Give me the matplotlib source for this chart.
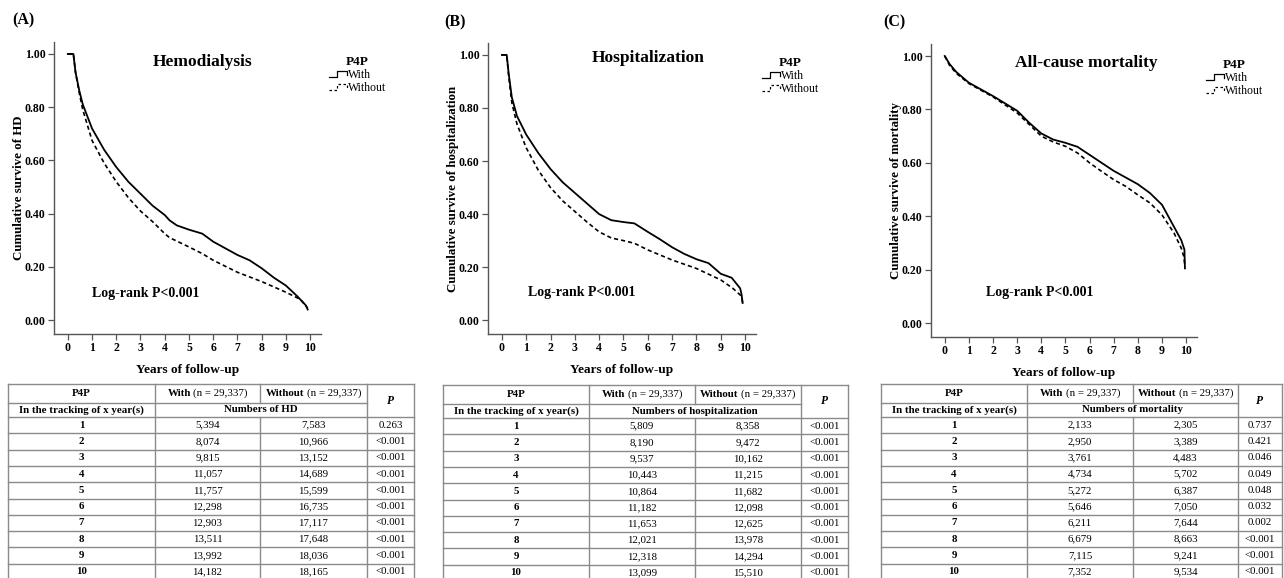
import matplotlib
matplotlib.use("Agg")
import matplotlib.pyplot as plt
from matplotlib.legend_handler import HandlerBase
from matplotlib.lines import Line2D

plt.rcParams['font.family'] = ['Liberation Serif', 'DejaVu Serif']

W, H = 1284, 578

# ---- Kaplan-Meier curves (years, survival) ----
hd_t_with = [0, 0.23, 0.32, 0.48, 0.62, 1, 1.5, 2, 2.5, 3, 3.5, 4, 4.2, 4.5, 5, 5.55, 6, 6.5, 7, 7.5, 8, 8.5, 9, 9.47, 9.83, 9.9]
hd_s_with = [1, 1, 0.93, 0.86, 0.81, 0.72, 0.64, 0.575, 0.52, 0.475, 0.43, 0.395, 0.375, 0.356, 0.34, 0.325, 0.295, 0.27, 0.245, 0.225, 0.195, 0.16, 0.13, 0.09, 0.055, 0.04]
hd_t_without = [0, 0.23, 0.32, 0.48, 0.62, 1, 1.5, 2, 2.5, 3, 3.5, 4, 4.2, 5, 5.55, 6, 7, 8, 9, 9.6, 9.9]
hd_s_without = [1, 1, 0.93, 0.85, 0.79, 0.675, 0.59, 0.52, 0.46, 0.41, 0.37, 0.325, 0.31, 0.275, 0.25, 0.225, 0.18, 0.145, 0.105, 0.078, 0.045]

hosp_t_with = [0, 0.2, 0.28, 0.41, 0.62, 1, 1.5, 2, 2.5, 3, 3.5, 4, 4.5, 5, 5.45, 6, 6.5, 7, 7.5, 8, 8.5, 9, 9.45, 9.8, 9.86, 9.9]
hosp_s_with = [1, 1, 0.93, 0.84, 0.77, 0.70, 0.63, 0.57, 0.52, 0.48, 0.44, 0.40, 0.377, 0.37, 0.365, 0.333, 0.305, 0.275, 0.25, 0.23, 0.215, 0.175, 0.16, 0.12, 0.095, 0.065]
hosp_t_without = [0, 0.2, 0.28, 0.41, 0.62, 1, 1.5, 2, 2.5, 3, 3.5, 4, 4.5, 5, 5.45, 6, 7, 8, 9, 9.5, 9.86, 9.9]
hosp_s_without = [1, 1, 0.92, 0.82, 0.74, 0.65, 0.565, 0.50, 0.45, 0.41, 0.37, 0.333, 0.31, 0.30, 0.29, 0.265, 0.227, 0.195, 0.152, 0.12, 0.09, 0.065]

mort_t_with = [0, 0.2, 0.48, 1, 2, 3, 3.5, 4, 4.5, 5, 5.5, 6, 6.5, 7, 7.5, 8, 8.5, 9, 9.5, 9.8, 9.93, 9.95]
mort_s_with = [1, 0.97, 0.94, 0.90, 0.85, 0.795, 0.75, 0.71, 0.687, 0.675, 0.66, 0.63, 0.60, 0.57, 0.545, 0.52, 0.487, 0.443, 0.36, 0.31, 0.275, 0.205]
mort_t_without = [0, 0.2, 0.48, 1, 2, 3, 4, 4.5, 5, 5.5, 6, 6.5, 7, 7.5, 8, 8.5, 9, 9.5, 9.8, 9.9, 9.95]
mort_s_without = [1, 0.965, 0.935, 0.897, 0.847, 0.787, 0.70, 0.678, 0.662, 0.637, 0.60, 0.568, 0.537, 0.512, 0.48, 0.45, 0.405, 0.337, 0.28, 0.25, 0.215]

# ---- tables ----
years = [1, 2, 3, 4, 5, 6, 7, 8, 9, 10]
hd_with = ["5,394", "8,074", "9,815", "11,057", "11,757", "12,298", "12,903", "13,511", "13,992", "14,182"]
hd_without = ["7,583", "10,966", "13,152", "14,689", "15,599", "16,735", "17,117", "17,648", "18,036", "18,165"]
hd_p = ["0.263"] + ["<0.001"] * 9
hosp_with = ["5,809", "8,190", "9,537", "10,443", "10,864", "11,182", "11,653", "12,021", "12,318", "13,099"]
hosp_without = ["8,358", "9,472", "10,162", "11,215", "11,682", "12,098", "12,625", "13,978", "14,294", "15,510"]
hosp_p = ["<0.001"] * 10
mort_with = ["2,133", "2,950", "3,761", "4,734", "5,272", "5,646", "6,211", "6,679", "7,115", "7,352"]
mort_without = ["2,305", "3,389", "4,483", "5,702", "6,387", "7,050", "7,644", "8,663", "9,241", "9,534"]
mort_p = ["0.737", "0.421", "0.046", "0.049", "0.048", "0.032", "0.002", "<0.001", "<0.001", "<0.001"]

panels = [
    dict(tag="(A)", title="Hemodialysis", ylabel="Cumulative survive of HD", what="HD",
         curves=(hd_t_with, hd_s_with, hd_t_without, hd_s_without),
         table=(hd_with, hd_without, hd_p),
         box=(54, 42, 321, 334), tagxy=(12, 20), titlexy=(5.56, 0.97), lrxy=(0.98, 0.10),
         legxy=(329, 56), cols=[8, 155, 260, 367, 414], ttop=384),
    dict(tag="(B)", title="Hospitalization", ylabel="Cumulative survive of hospitalization", what="hospitalization",
         curves=(hosp_t_with, hosp_s_with, hosp_t_without, hosp_s_without),
         table=(hosp_with, hosp_without, hosp_p),
         box=(488, 43, 756, 334), tagxy=(444, 22), titlexy=(6.0, 0.99), lrxy=(1.07, 0.106),
         legxy=(762, 57), cols=[443, 589, 695, 801, 848], ttop=385),
    dict(tag="(C)", title="All-cause mortality", ylabel="Cumulative survive of mortality", what="mortality",
         curves=(mort_t_with, mort_s_with, mort_t_without, mort_s_without),
         table=(mort_with, mort_without, mort_p),
         box=(931, 44, 1197, 337), tagxy=(883, 22), titlexy=(5.87, 0.975), lrxy=(1.7, 0.115),
         legxy=(1206, 59), cols=[881, 1027, 1133, 1238, 1282], ttop=384),
]


class StepHandler(HandlerBase):
    # SPSS style little step glyph in the legend
    def create_artists(self, legend, orig_handle, xdescent, ydescent, width, height, fontsize, trans):
        x0, y0 = -xdescent, -ydescent
        xs = [x0, x0 + 0.45 * width, x0 + 0.45 * width, x0 + width, x0 + width]
        ys = [y0 + 0.15 * height, y0 + 0.15 * height, y0 + 0.85 * height, y0 + 0.85 * height, y0 + 0.45 * height]
        ln = Line2D(xs, ys, color="black", lw=0.9, linestyle=orig_handle.get_linestyle(), transform=trans)
        if orig_handle.get_linestyle() != "-":
            ln.set_dashes((2, 2))
        return [ln]


fig = plt.figure(figsize=(W / 100, H / 100), dpi=100)

for p in panels:
    l, t, r, b = p["box"]
    ax = fig.add_axes([l / W, 1 - b / H, (r - l) / W, (b - t) / H])
    tw, sw, to, so = p["curves"]
    l1, = ax.plot(tw, sw, color="black", lw=1.3, ls="-")
    l2, = ax.plot(to, so, color="black", lw=1.2, ls="--", dashes=(2.5, 1.8))
    ax.set_xlim(-0.57, 10.45)
    ax.set_ylim(-0.052, 1.045)
    ax.set_xticks(range(11))
    ax.set_yticks([0, 0.2, 0.4, 0.6, 0.8, 1.0])
    ax.set_yticklabels(["%.2f" % v for v in [0, 0.2, 0.4, 0.6, 0.8, 1.0]])
    for s in ["top", "right"]:
        ax.spines[s].set_visible(False)
    for s in ["left", "bottom"]:
        ax.spines[s].set_color("#555555")
        ax.spines[s].set_linewidth(1.0)
    ax.tick_params(length=4, width=0.9, color="#555555", labelsize=8.5, pad=2)
    for lab in ax.get_xticklabels() + ax.get_yticklabels():
        lab.set_fontweight("bold")
    ax.set_xlabel("Years of follow-up", fontsize=9.5, fontweight="bold", labelpad=7)
    ax.set_ylabel(p["ylabel"], fontsize=9.3, fontweight="bold", labelpad=0)
    ax.text(p["titlexy"][0], p["titlexy"][1], p["title"], fontsize=12.5, fontweight="bold",
            ha="center", va="center")
    ax.text(p["lrxy"][0], p["lrxy"][1], "Log-rank P<0.001", fontsize=10, fontweight="bold",
            ha="left", va="center")
    ax.legend([l1, l2], ["With", "Without"], title="P4P", handler_map={Line2D: StepHandler()},
              frameon=False, loc="upper left",
              bbox_to_anchor=(p["legxy"][0] / W, 1 - p["legxy"][1] / H), bbox_transform=fig.transFigure,
              handlelength=1.5, handleheight=0.8, handletextpad=0.1, labelspacing=0.1,
              borderpad=0, borderaxespad=0, prop={"size": 8.5},
              title_fontproperties={"weight": "bold", "size": 9.5})
    fig.text(p["tagxy"][0] / W, 1 - p["tagxy"][1] / H, p["tag"], fontsize=11.5, fontweight="bold",
             ha="left", va="center")

# ---- tables drawn on an overlay axes in pixel units ----
tax = fig.add_axes([0, 0, 1, 1])
tax.set_xlim(0, W)
tax.set_ylim(H, 0)
tax.axis("off")
renderer = fig.canvas.get_renderer()
gc = "#8a8a8a"
fs = 7.8


def mixed(xc, y, bold, rest):
    t1 = tax.text(0, y, bold, fontweight="bold", fontsize=fs, ha="left", va="center")
    t2 = tax.text(0, y, rest, fontsize=fs, ha="left", va="center")
    w1 = t1.get_window_extent(renderer).width
    w2 = t2.get_window_extent(renderer).width
    gap = 2.5
    x0 = xc - (w1 + w2 + gap) / 2
    t1.set_x(x0)
    t2.set_x(x0 + w1 + gap)


for p in panels:
    c = p["cols"]
    top = p["ttop"]
    h1 = top + 19
    h2 = top + 33
    rh = 16.3
    bottom = h2 + rh * len(years)
    # horizontal lines
    tax.plot([c[0], c[4]], [top, top], color=gc, lw=1)
    tax.plot([c[0], c[3]], [h1, h1], color=gc, lw=1)
    for k in range(len(years) + 1):
        yy = h2 + rh * k
        tax.plot([c[0], c[4]], [yy, yy], color=gc, lw=1)
    # vertical lines
    for x in [c[0], c[1], c[3], c[4]]:
        tax.plot([x, x], [top, bottom], color=gc, lw=1)
    tax.plot([c[2], c[2]], [top, h1], color=gc, lw=1)
    tax.plot([c[2], c[2]], [h2, bottom], color=gc, lw=1)
    # header text
    tax.text((c[0] + c[1]) / 2, (top + h1) / 2, "P4P", fontsize=fs, fontweight="bold", ha="center", va="center")
    tax.text((c[0] + c[1]) / 2, (h1 + h2) / 2, "In the tracking of x year(s)", fontsize=fs,
             fontweight="bold", ha="center", va="center")
    mixed((c[1] + c[2]) / 2, (top + h1) / 2, "With", "(n = 29,337)")
    mixed((c[2] + c[3]) / 2, (top + h1) / 2, "Without", "(n = 29,337)")
    tax.text((c[1] + c[3]) / 2, (h1 + h2) / 2, "Numbers of " + p["what"], fontsize=fs,
             fontweight="bold", ha="center", va="center")
    tax.text((c[3] + c[4]) / 2, (top + h2) / 2, "P", fontsize=fs + 0.5, fontweight="bold",
             fontstyle="italic", ha="center", va="center")
    vw, vo, vp = p["table"]
    for k, yr in enumerate(years):
        yc = h2 + rh * (k + 0.5)
        tax.text((c[0] + c[1]) / 2, yc, str(yr), fontsize=fs, fontweight="bold", ha="center", va="center")
        tax.text((c[1] + c[2]) / 2, yc, vw[k], fontsize=fs, ha="center", va="center")
        tax.text((c[2] + c[3]) / 2, yc, vo[k], fontsize=fs, ha="center", va="center")
        tax.text((c[3] + c[4]) / 2, yc, vp[k], fontsize=fs, ha="center", va="center")

fig.savefig("out.png", dpi=100)
